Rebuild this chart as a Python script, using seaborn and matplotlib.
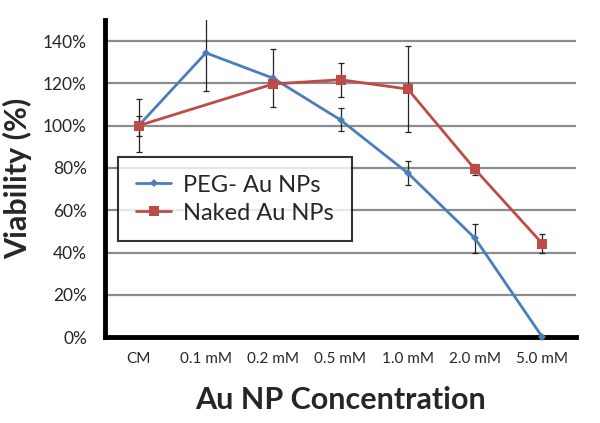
import numpy as np
import matplotlib
matplotlib.use('Agg')
import matplotlib.pyplot as plt
import pandas as pd
import seaborn as sns

#Data (viability in %)
concentrations = ['CM', '0.1 mM', '0.2 mM', '0.5 mM', '1.0 mM', '2.0 mM', '5.0 mM']
peg_viability = [100, 134.4, 122.4, 102.7, 77.6, 46.7, 0]
peg_err = [4.7, 18, 13.7, 5.4, 5.6, 6.7, 0]
naked_viability = [100, np.nan, 119.7, 121.7, 117.3, 79.3, 44.2]
naked_err = [12.6, np.nan, 0, 8, 20.3, 2.5, 4.4]
series_names = ['PEG- Au NPs', 'Naked Au NPs']

sns.set_style('white')
plt.rcParams['font.family'] = ['Lato', 'DejaVu Sans']

#Long table for seaborn
pos = np.arange(len(concentrations))
df = pd.DataFrame({
    'pos': np.concatenate([pos, pos]),
    'viability': np.concatenate([peg_viability, naked_viability]),
    'err': np.concatenate([peg_err, naked_err]),
    'series': [series_names[0]] * len(pos) + [series_names[1]] * len(pos),
}).dropna(subset=['viability'])

colors = {series_names[0]: '#4A7EBB', series_names[1]: '#BE4B48'}
markers = {series_names[0]: 'D', series_names[1]: 's'}
sizes = {series_names[0]: 4.5, series_names[1]: 7}

fig = plt.figure(figsize=(6, 4.23), dpi=100)
ax = fig.add_axes([0.175, 0.203, 0.785, 0.75])

#Gridlines first so that lines sit on top
for g in np.arange(20, 150, 20):
    ax.axhline(g, color='#8C8C8C', lw=1.6, zorder=0)

#Error bars (black, with caps)
for name in series_names:
    sub = df[df['series'] == name]
    ax.errorbar(sub['pos'], sub['viability'], yerr=sub['err'], fmt='none',
                ecolor='#222222', elinewidth=0.9, capsize=2.5, capthick=0.9, zorder=2)

for name in series_names:
    sub = df[df['series'] == name]
    sns.lineplot(data=sub, x='pos', y='viability', ax=ax, color=colors[name],
                 marker=markers[name], markersize=sizes[name], markeredgewidth=0,
                 lw=2, label=name, zorder=3, clip_on=False)

ax.set_xlim(-0.5, len(concentrations) - 0.5)
ax.set_ylim(0, 150)
ax.set_yticks(np.arange(0, 150, 20))
ax.set_yticklabels([f'{int(v)}%' for v in np.arange(0, 150, 20)], fontsize=12.5)
ax.set_xticks(pos)
ax.set_xticklabels(concentrations, fontsize=11)
ax.set_xticks(np.arange(-0.5, len(concentrations), 1), minor=True)
ax.tick_params(axis='x', which='major', length=0, pad=11)
ax.tick_params(axis='x', which='minor', length=5, width=2.5, direction='out', color='black')
ax.tick_params(axis='y', length=5, width=2.5, direction='in', color='black', pad=13)

for s in ['top', 'right']:
    ax.spines[s].set_visible(False)
ax.spines['left'].set_linewidth(3.5)
ax.spines['bottom'].set_linewidth(3.5)
ax.spines['left'].set_color('black')
ax.spines['bottom'].set_color('black')

ax.set_xlabel('Au NP Concentration', fontsize=22, fontweight='bold', labelpad=14)
ax.set_ylabel('Viability (%)', fontsize=22, fontweight='bold', labelpad=8)

leg = ax.legend(loc='upper left', bbox_to_anchor=(0.028, 0.568), fontsize=17,
                frameon=True, fancybox=False, edgecolor='black', handlelength=1.5,
                handletextpad=0.5, borderpad=0.75, labelspacing=0.3, borderaxespad=0)
leg.get_frame().set_linewidth(1.5)

plt.savefig('out.png', dpi=100)
